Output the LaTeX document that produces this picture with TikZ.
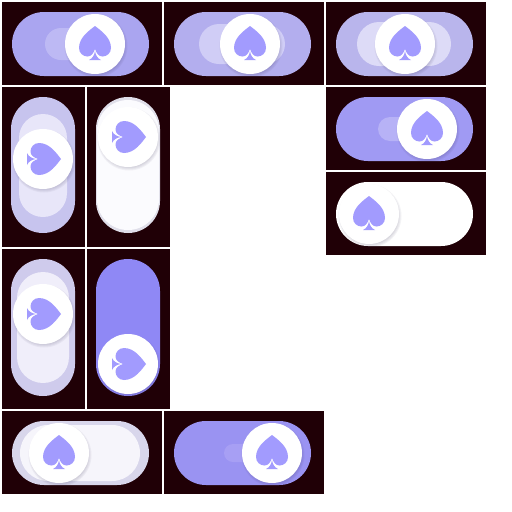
\documentclass[tikz,border=0pt]{standalone}
\usepackage{xcolor}

\definecolor{panelbg}{HTML}{200006}
\definecolor{spadecol}{HTML}{A29BFE}
\definecolor{shadowcol}{HTML}{302850}

\tikzset{
  panel/.style={fill=panelbg},
  spade/.pic={
    \fill[spadecol] (0,-18) .. controls (-5,-14) and (-16,-7) .. (-16,4)
      .. controls (-16,9) and (-12,12.5) .. (-7.5,12.5)
      .. controls (-3.5,12.5) and (-1.5,9) .. (0,5)
      .. controls (1.5,9) and (3.5,12.5) .. (7.5,12.5)
      .. controls (12,12.5) and (16,9) .. (16,4)
      .. controls (16,-7) and (5,-14) .. (0,-18) -- cycle;
    \fill[spadecol] (0,7) .. controls (-0.5,11) and (-2.5,14.5) .. (-6,16)
      -- (6,16) .. controls (2.5,14.5) and (0.5,11) .. (0,7) -- cycle;
  },
  knob/.pic={
    \foreach \s in {0.5,1.5,...,5.5} {
      \fill[shadowcol, opacity=0.05] (1,2) circle (26pt+\s pt);
    }
    \fill[white] (0,0) circle (30pt);
    \pic[rotate=#1] {spade};
  }
}

\begin{document}
\begin{tikzpicture}[x=1pt,y=-1pt]

\useasboundingbox (0,0) rectangle (512,512);

% Panels
\fill[panel] (2,2) rectangle (162,85);
\fill[panel] (164,2) rectangle (324,85);
\fill[panel] (326,2) rectangle (486,85);
\fill[panel] (2,87) rectangle (85,247);
\fill[panel] (87,87) rectangle (170,247);
\fill[panel] (326,87) rectangle (486,170);
\fill[panel] (326,172) rectangle (486,255);
\fill[panel] (2,249) rectangle (85,409);
\fill[panel] (87,249) rectangle (170,409);
\fill[panel] (2,411) rectangle (162,494);
\fill[panel] (164,411) rectangle (324,494);

% Top row
\fill[fill={rgb,255:red,170;green,165;blue,240}, rounded corners=32pt] (12,12) rectangle (149,76);
\fill[fill={rgb,255:red,189;green,185;blue,244}, rounded corners=16pt] (45,28) rectangle (116,60);
\pic at (95,44) {knob=0};

\fill[fill={rgb,255:red,179;green,174;blue,238}, rounded corners=32pt] (174,12) rectangle (311,76);
\fill[fill={rgb,255:red,208;green,205;blue,246}, rounded corners=20pt] (199,24) rectangle (285,64);
\pic at (250,44) {knob=0};

\fill[fill={rgb,255:red,185;green,181;blue,236}, rounded corners=32pt] (336,12) rectangle (473,76);
\fill[fill={rgb,255:red,221;green,219;blue,247}, rounded corners=22pt] (357,22) rectangle (451,66);
\pic at (405,44) {knob=0};

% Right column
\fill[fill={rgb,255:red,160;green,154;blue,243}, rounded corners=32pt] (336,97) rectangle (473,161);
\fill[fill={rgb,255:red,183;green,178;blue,246}, rounded corners=12pt] (378,117) rectangle (431,141);
\pic at (427,129) {knob=0};

\fill[white, rounded corners=32pt] (336,182) rectangle (473,246);
\pic at (369,214) {knob=0};

% Vertical switches
\fill[fill={rgb,255:red,199;green,196;blue,238}, rounded corners=32pt] (11,97) rectangle (75,233);
\fill[fill={rgb,255:red,232;green,230;blue,249}, rounded corners=24pt] (19,114) rectangle (67,217);
\pic at (43,159) {knob=-90};

\fill[fill={rgb,255:red,224;green,223;blue,234}, rounded corners=32pt] (96,97) rectangle (160,233);
\fill[fill={rgb,255:red,251;green,251;blue,254}, rounded corners=31pt] (97,100) rectangle (159,230);
\pic at (128,137) {knob=-90};

\fill[fill={rgb,255:red,207;green,203;blue,236}, rounded corners=32pt] (11,259) rectangle (75,396);
\fill[fill={rgb,255:red,240;green,238;blue,250}, rounded corners=26pt] (17,272) rectangle (69,383);
\pic at (43,314) {knob=-90};

\fill[fill={rgb,255:red,143;green,136;blue,245}, rounded corners=32pt] (96,259) rectangle (160,396);
\pic at (128,364) {knob=-90};

% Bottom row
\fill[fill={rgb,255:red,216;green,214;blue,235}, rounded corners=32pt] (12,421) rectangle (149,485);
\fill[fill={rgb,255:red,246;green,245;blue,251}, rounded corners=28pt] (20,425) rectangle (140,481);
\pic at (59,453) {knob=0};

\fill[fill={rgb,255:red,154;green,147;blue,242}, rounded corners=32pt] (174,421) rectangle (311,485);
\fill[fill={rgb,255:red,167;green,159;blue,244}, rounded corners=9pt] (224,444) rectangle (261,462);
\pic at (272,453) {knob=0};

\end{tikzpicture}
\end{document}
